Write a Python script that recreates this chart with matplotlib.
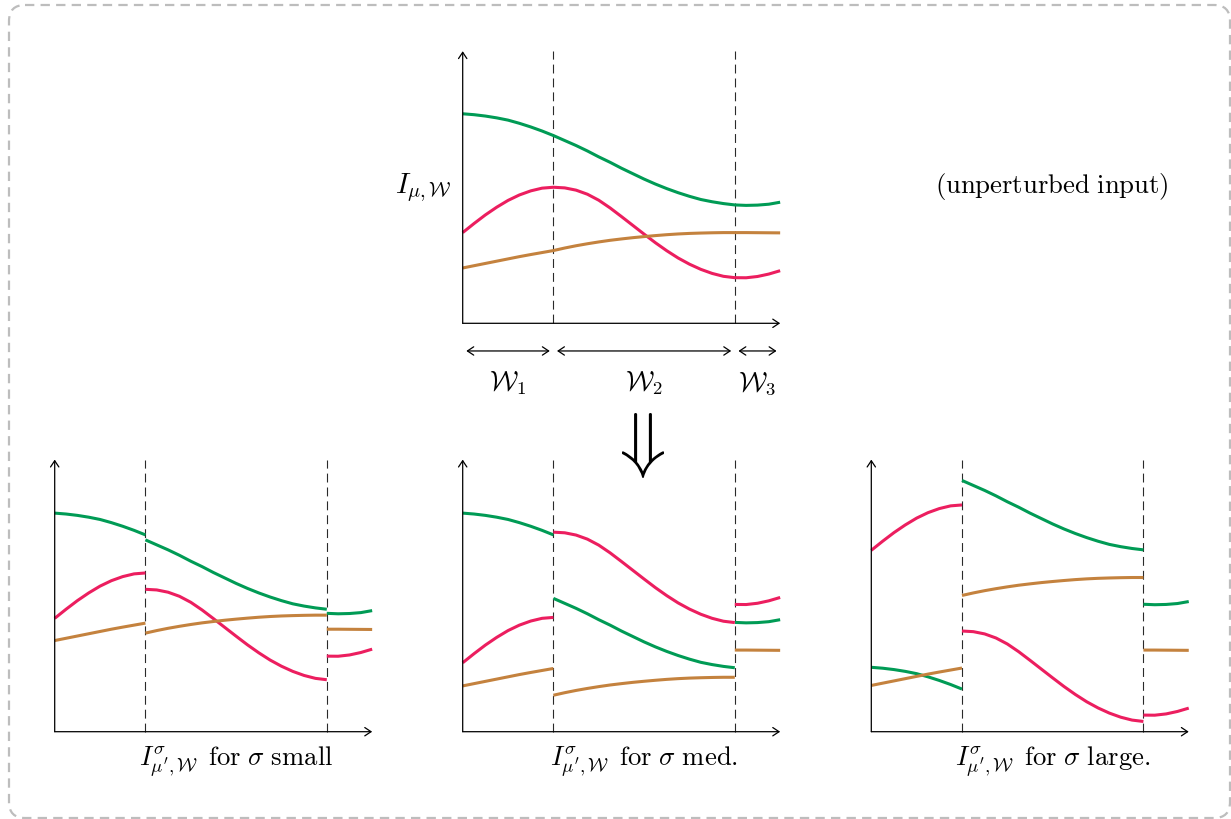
import matplotlib.pyplot as plt
from matplotlib.patches import FancyBboxPatch, PathPatch
from matplotlib.textpath import TextPath
from matplotlib.transforms import Affine2D

plt.rcParams['mathtext.fontset'] = 'cm'

# sample positions along the x axis (window borders at 1 and 3)
xs = [0, 0.125, 0.25, 0.375, 0.5, 0.625, 0.75, 0.875, 1.0, 1.125, 1.25, 1.375, 1.5, 1.625,
      1.75, 1.875, 2.0, 2.125, 2.25, 2.375, 2.5, 2.625, 2.75, 2.875, 3.0, 3.125, 3.25, 3.375, 3.5]

# unperturbed input curves
green = [2.31, 2.30, 2.285, 2.265, 2.24, 2.205, 2.165, 2.12, 2.07, 2.015, 1.96, 1.90, 1.835, 1.775,
         1.71, 1.65, 1.59, 1.535, 1.485, 1.44, 1.40, 1.365, 1.34, 1.32, 1.305, 1.30, 1.303, 1.313, 1.335]
pink = [1.00, 1.10, 1.195, 1.28, 1.355, 1.415, 1.46, 1.49, 1.50, 1.493, 1.468, 1.423, 1.357, 1.272,
        1.177, 1.08, 0.983, 0.888, 0.80, 0.72, 0.652, 0.595, 0.55, 0.518, 0.503, 0.502, 0.516, 0.543, 0.58]
brown = [0.61, 0.635, 0.66, 0.685, 0.71, 0.735, 0.758, 0.78, 0.802, 0.83, 0.855, 0.877, 0.897, 0.915,
         0.93, 0.944, 0.956, 0.967, 0.977, 0.985, 0.991, 0.995, 0.998, 1.0, 1.0, 1.0, 0.999, 0.998, 0.997]

windows = [(0, 1), (1, 3), (3, 3.5)]
window_labels = [r'$\mathcal{W}_1$', r'$\mathcal{W}_2$', r'$\mathcal{W}_3$']

# per-window vertical shifts of each curve in the perturbed panels
shift_small = {'green': [0.10, 0.045, 0.0], 'pink': [0.25, 0.07, 0.33], 'brown': [0.395, 0.285, 0.13]}
shift_med = {'green': [0.10, -0.60, -0.10], 'pink': [-0.24, 0.70, 0.90], 'brown': [-0.105, -0.40, -0.10]}
shift_large = {'green': [-1.60, 0.70, 0.10], 'pink': [1.00, -0.39, -0.32], 'brown': [-0.10, 0.70, -0.10]}

colour = {'green': '#009b55', 'pink': '#ec1e5f', 'brown': '#c4823e'}
curves = {'green': green, 'pink': pink, 'brown': brown}

W, H = 1231, 819
U = 90.7  # pixels per unit
FS = 19.2

fig = plt.figure(figsize=(W / 100, H / 100), dpi=100)

# decoration layer in pixel coordinates
deco = fig.add_axes([0, 0, 1, 1])
deco.set_xlim(0, W)
deco.set_ylim(H, 0)
deco.axis('off')

frame = FancyBboxPatch((9, 5), 1221, 813, boxstyle='round,pad=0,rounding_size=16',
                       fill=False, edgecolor='#bdbdbd', lw=1.6, linestyle=(0, (4.2, 2.8)),
                       clip_on=False)
deco.add_patch(frame)

# big double arrow between the rows
tp = TextPath((0, 0), r'$\Downarrow$', size=10)
bb = tp.get_extents()
tr = (Affine2D().translate(-bb.x0 - bb.width / 2, -bb.y1)
      .scale(42 / bb.width, -65 / bb.height).translate(643, 413))
deco.add_patch(PathPatch(tr.transform_path(tp), facecolor='black', edgecolor='none'))

deco.text(1052, 187, r'$\mathrm{(unperturbed\ input)}$', ha='center', va='center', fontsize=FS)

arrow = dict(arrowstyle='->,head_length=0.45,head_width=0.3', lw=0.9, color='black',
             shrinkA=0, shrinkB=0)


def make_panel(left, base):
    ax = fig.add_axes([left / W, (H - base) / H, 3.5 * U / W, 3 * U / H])
    ax.set_xlim(0, 3.5)
    ax.set_ylim(0, 3)
    ax.axis('off')
    for b in (1, 3):
        ax.plot([b, b], [0, 3], color='#2a2a2a', lw=0.8, linestyle=(0, (8, 4.5)), clip_on=False)
    ax.annotate('', xy=(3.5, 0), xytext=(0, 0), arrowprops=arrow, annotation_clip=False)
    ax.annotate('', xy=(0, 3), xytext=(0, 0), arrowprops=arrow, annotation_clip=False)
    return ax


def draw_shifted(ax, shifts):
    for name in ('green', 'pink', 'brown'):
        for k, (a, b) in enumerate(windows):
            sx = [x for x in xs if a <= x <= b]
            sy = [y + shifts[name][k] for x, y in zip(xs, curves[name]) if a <= x <= b]
            ax.plot(sx, sy, color=colour[name], lw=2.2, solid_capstyle='butt', clip_on=False)


# top panel: unperturbed input
top = make_panel(462.7, 323.3)
for name in ('green', 'pink', 'brown'):
    top.plot(xs, curves[name], color=colour[name], lw=2.2, solid_capstyle='butt', clip_on=False)
top.text(-0.12, 1.5, r'$I_{\mu,\mathcal{W}}$', ha='right', va='center', fontsize=FS + 1.5)
for (a, b), lab in zip(windows, window_labels):
    top.annotate('', xy=(b - 0.04, -0.305), xytext=(a + 0.04, -0.305), annotation_clip=False,
                 arrowprops=dict(arrowstyle='<->,head_length=0.45,head_width=0.3', lw=0.9,
                                 color='black', shrinkA=0, shrinkB=0))
    top.text((a + b) / 2, -0.66, lab, ha='center', va='center', fontsize=FS)

# bottom row: perturbed inputs
panels = [(54.7, shift_small, r'$I^{\sigma}_{\mu^{\prime},\mathcal{W}}\ \,\mathrm{for}\ \sigma\ \mathrm{small}$'),
          (462.7, shift_med, r'$I^{\sigma}_{\mu^{\prime},\mathcal{W}}\ \,\mathrm{for}\ \sigma\ \mathrm{med.}$'),
          (871.3, shift_large, r'$I^{\sigma}_{\mu^{\prime},\mathcal{W}}\ \,\mathrm{for}\ \sigma\ \mathrm{large.}$')]
for left, shifts, label in panels:
    ax = make_panel(left, 731.7)
    draw_shifted(ax, shifts)
    ax.text(2.0, -0.33, label, ha='center', va='center', fontsize=FS)

fig.savefig('out.png', dpi=100)
